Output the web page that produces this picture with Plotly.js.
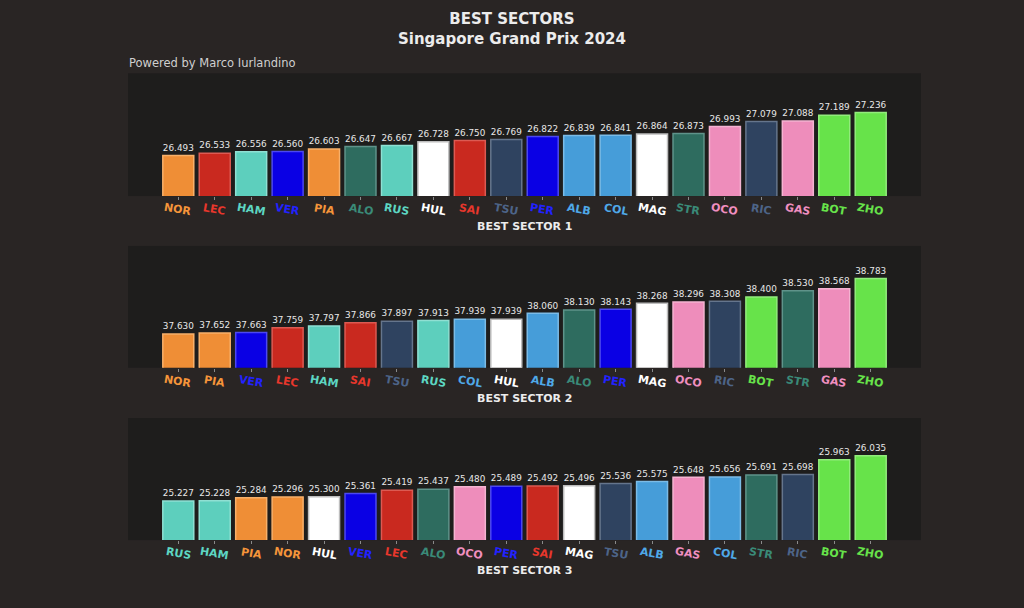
<!DOCTYPE html>
<html>
<head>
<meta charset="utf-8">
<script src="https://cdn.plot.ly/plotly-3.0.1.min.js"></script>
<style>html,body{margin:0;padding:0;background:#292524;}#chart{width:1024px;height:608px;}</style>
</head>
<body>
<div id="chart"></div>
<script>
const s1Drivers = ["NOR","LEC","HAM","VER","PIA","ALO","RUS","HUL","SAI","TSU","PER","ALB","COL","MAG","STR","OCO","RIC","GAS","BOT","ZHO"];
const s1Times = [26.493,26.533,26.556,26.560,26.603,26.647,26.667,26.728,26.750,26.769,26.822,26.839,26.841,26.864,26.873,26.993,27.079,27.088,27.189,27.236];

const s2Drivers = ["NOR","PIA","VER","LEC","HAM","SAI","TSU","RUS","COL","HUL","ALB","ALO","PER","MAG","OCO","RIC","BOT","STR","GAS","ZHO"];
const s2Times = [37.630,37.652,37.663,37.759,37.797,37.866,37.897,37.913,37.939,37.939,38.060,38.130,38.143,38.268,38.296,38.308,38.400,38.530,38.568,38.783];

const s3Drivers = ["RUS","HAM","PIA","NOR","HUL","VER","LEC","ALO","OCO","PER","SAI","MAG","TSU","ALB","GAS","COL","STR","RIC","BOT","ZHO"];
const s3Times = [25.227,25.228,25.284,25.296,25.300,25.361,25.419,25.437,25.480,25.489,25.492,25.496,25.536,25.575,25.648,25.656,25.691,25.698,25.963,26.035];

const barColors = {
  NOR:"#ef8e36", PIA:"#ef8e36",
  LEC:"#c9291f", SAI:"#c9291f",
  HAM:"#5dcfbd", RUS:"#5dcfbd",
  VER:"#0a00e4", PER:"#0a00e4",
  ALO:"#2e6c5f", STR:"#2e6c5f",
  HUL:"#ffffff", MAG:"#ffffff",
  TSU:"#2f4360", RIC:"#2f4360",
  ALB:"#469dd9", COL:"#469dd9",
  OCO:"#ee8dbb", GAS:"#ee8dbb",
  BOT:"#67e34a", ZHO:"#67e34a"
};
const edgeColors = {
  NOR:"#f7b06a", PIA:"#f7b06a",
  LEC:"#dc5a52", SAI:"#dc5a52",
  HAM:"#8fe0d3", RUS:"#8fe0d3",
  VER:"#4c48f0", PER:"#4c48f0",
  ALO:"#5f938a", STR:"#5f938a",
  HUL:"#bdbdbd", MAG:"#bdbdbd",
  TSU:"#65758c", RIC:"#65758c",
  ALB:"#7bbbe6", COL:"#7bbbe6",
  OCO:"#f4b3d1", GAS:"#f4b3d1",
  BOT:"#92ec7c", ZHO:"#92ec7c"
};
const labelColors = {
  NOR:"#f5953a", PIA:"#f5953a",
  LEC:"#e8372c", SAI:"#e8372c",
  HAM:"#5dd6c2", RUS:"#5dd6c2",
  VER:"#2222ff", PER:"#2222ff",
  ALO:"#3a8a78", STR:"#3a8a78",
  HUL:"#ffffff", MAG:"#ffffff",
  TSU:"#4d6488", RIC:"#4d6488",
  ALB:"#4fa8e8", COL:"#4fa8e8",
  OCO:"#f08fc0", GAS:"#f08fc0",
  BOT:"#67e34a", ZHO:"#67e34a"
};

const sectors = [
  {drivers: s1Drivers, times: s1Times, title: "BEST SECTOR 1", ax: "", dom: [0.6776, 0.8794], lpos: 209, tpos: 226},
  {drivers: s2Drivers, times: s2Times, title: "BEST SECTOR 2", ax: "2", dom: [0.3952, 0.5954], lpos: 381, tpos: 398},
  {drivers: s3Drivers, times: s3Times, title: "BEST SECTOR 3", ax: "3", dom: [0.1118, 0.3125], lpos: 553, tpos: 570}
];

const data = [];
const layout = {
  width: 1024, height: 608,
  margin: {l: 0, r: 0, t: 0, b: 0},
  paper_bgcolor: "#292524",
  plot_bgcolor: "#1e1d1c",
  showlegend: false,
  font: {family: "DejaVu Sans", color: "#e6e6e6"},
  annotations: [
    {text: "<b>BEST SECTORS</b><br><b>Singapore Grand Prix 2024</b>", xref: "paper", yref: "paper",
     x: 0.5, y: 1 - 8/608, xanchor: "center", yanchor: "top", showarrow: false,
     font: {family: "DejaVu Sans", size: 15, color: "#ececec"}, align: "center"},
    {text: "Powered by Marco Iurlandino", xref: "paper", yref: "paper",
     x: 127/1024, y: 1 - 63/608, xanchor: "left", yanchor: "middle", showarrow: false,
     font: {family: "DejaVu Sans", size: 11.5, color: "#cfcfcf"}}
  ]
};

sectors.forEach(function(s) {
  const idx = s.drivers.map(function(_, i) { return i; });
  const xa = "x" + s.ax, ya = "y" + s.ax;
  data.push({
    type: "bar",
    x: idx,
    y: s.times,
    xaxis: xa, yaxis: ya,
    width: 0.85,
    marker: {
      color: s.drivers.map(function(d) { return barColors[d]; }),
      line: {color: s.drivers.map(function(d) { return edgeColors[d]; }), width: 1.5}
    },
    text: s.times.map(function(v) { return v.toFixed(3); }),
    textposition: "outside",
    cliponaxis: false,
    textfont: {family: "DejaVu Sans", size: 10, color: "#e8e8e8"},
    hoverinfo: "skip"
  });
  const mn = Math.min.apply(null, s.times), mx = Math.max.apply(null, s.times);
  layout["xaxis" + s.ax] = {
    domain: [128/1024, 921/1024],
    anchor: ya,
    range: [-1.38, 20.38],
    tickmode: "array",
    tickvals: idx,
    ticktext: idx.map(function() { return ""; }),
    ticks: "outside", ticklen: 3, tickwidth: 1, tickcolor: "#8a8a8a",
    showgrid: false, zeroline: false, showline: false, fixedrange: true
  };
  layout["yaxis" + s.ax] = {
    domain: s.dom,
    anchor: xa,
    range: [mn - 0.7, mx + 0.675],
    showticklabels: false, showgrid: false, zeroline: false, ticks: "", showline: false
  };
  s.drivers.forEach(function(d, i) {
    layout.annotations.push({
      text: "<b>" + d + "</b>", xref: xa, yref: "paper",
      x: i, y: 1 - s.lpos/608, xanchor: "center", yanchor: "middle", showarrow: false,
      textangle: 10,
      font: {family: "DejaVu Sans", size: 11, color: labelColors[d]}
    });
  });
  layout.annotations.push({
    text: "<b>" + s.title + "</b>", xref: "paper", yref: "paper",
    x: 524.5/1024, y: 1 - s.tpos/608, xanchor: "center", yanchor: "middle", showarrow: false,
    font: {family: "DejaVu Sans", size: 11, color: "#ececec"}
  });
});

Plotly.newPlot("chart", data, layout, {staticPlot: true});
</script>
</body>
</html>
